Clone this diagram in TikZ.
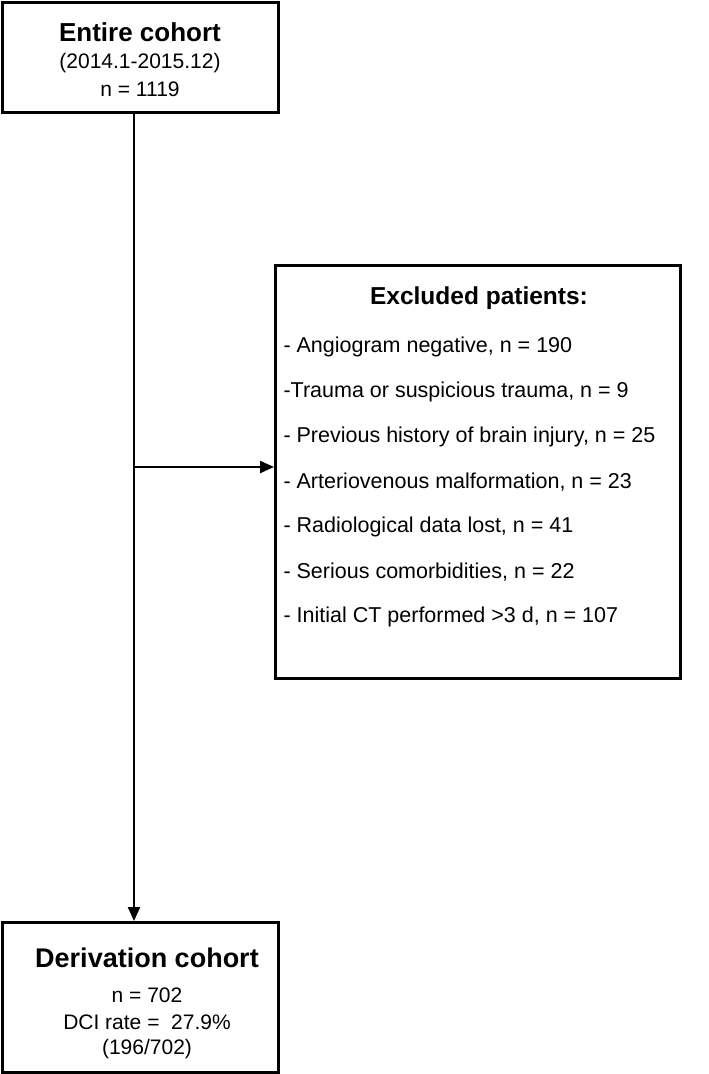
\documentclass[tikz,border=0pt]{standalone}
\usepackage{fontspec}
\setmainfont{Liberation Sans}
\usetikzlibrary{arrows.meta}
\begin{document}
\begin{tikzpicture}[x=1pt,y=-1pt,
  box/.style={draw,line width=3pt},
  conn/.style={line width=2.2pt,-{Triangle[length=14pt,width=12pt]}},
  tl/.style={font=\fontsize{27}{30}\selectfont\bfseries},
  tx/.style={font=\fontsize{21}{24}\selectfont},
  it/.style={font=\fontsize{21.5}{24}\selectfont,anchor=west}]
\useasboundingbox (0,0) rectangle (709,1074);
\draw[box] (2,2) rectangle (278,112);
\node[tl,font=\fontsize{26}{30}\selectfont\bfseries] (t1) at (140,32) {Entire cohort};
\node[tx] (t2) at (140,63) {(2014.1-2015.12)};
\node[tx] (t3) at (140,89) {n = 1119};
\coordinate (top) at (134,113);
\coordinate (mid) at (134,467);
\coordinate (bot) at (134,921);
\coordinate (ex) at (274,467);
\draw[box] (275,265) rectangle (680,678);
\node[tl,font=\fontsize{24.5}{28}\selectfont\bfseries] (e0) at (479,298) {Excluded patients:};
\node[it] (e1) at (280,347) {- Angiogram negative, n = 190};
\node[it] (e2) at (280,392) {-Trauma or suspicious trauma, n = 9};
\node[it] (e3) at (280,437) {- Previous history of brain injury, n = 25};
\node[it] (e4) at (280,482) {- Arteriovenous malformation, n = 23};
\node[it] (e5) at (280,527) {- Radiological data lost, n = 41};
\node[it] (e6) at (280,572) {- Serious comorbidities, n = 22};
\node[it] (e7) at (280,617) {- Initial CT performed >3 d, n = 107};
\draw[box] (2,922) rectangle (278,1072);
\node[tl] (b1) at (147,958) {Derivation cohort};
\node[tx] (b2) at (147,995) {n = 702};
\node[tx] (b3) at (147,1022) {DCI rate = \ 27.9\%};
\node[tx] (b4) at (147,1049) {(196/702)};
\draw[conn] (top) -- (bot);
\draw[conn] (mid) -- (ex);
\end{tikzpicture}
\end{document}
